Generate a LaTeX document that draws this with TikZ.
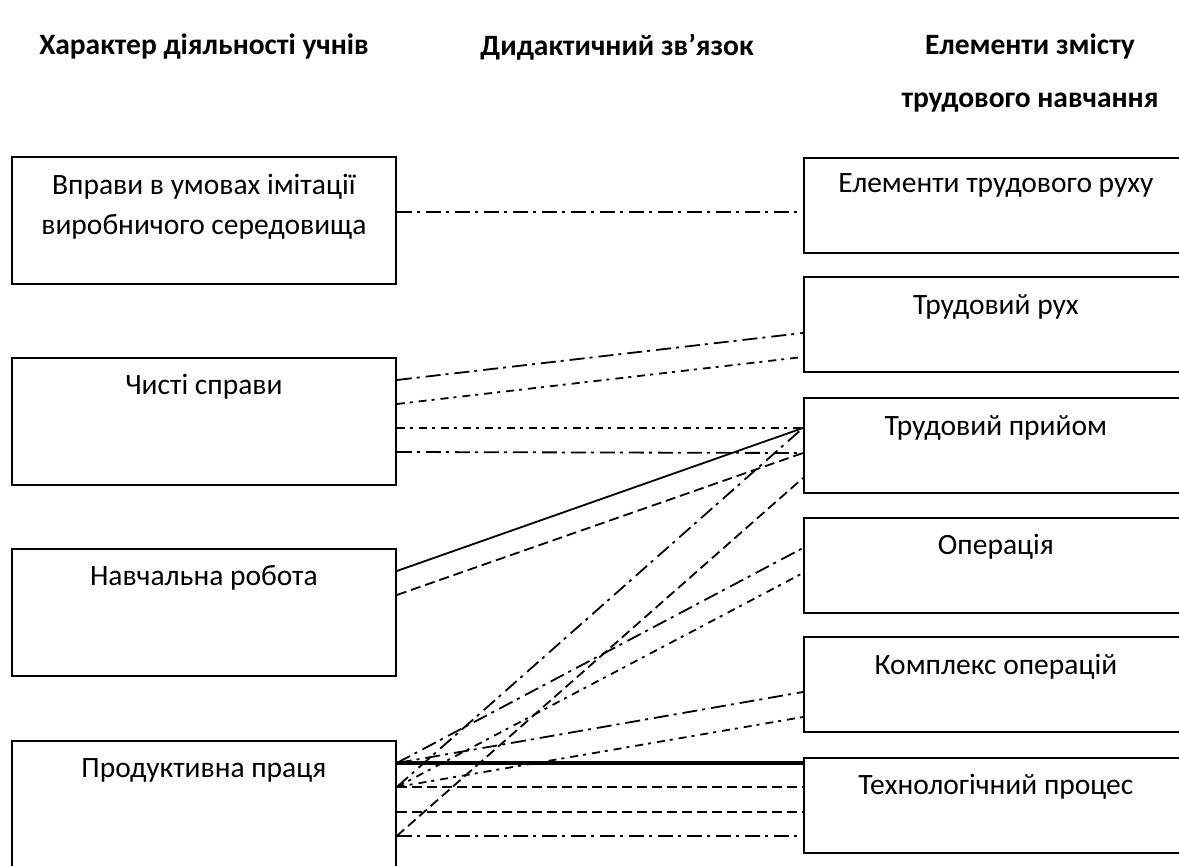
\documentclass[tikz,border=0pt]{standalone}
\usepackage{fontspec}
\setmainfont{Carlito}
\usetikzlibrary{calc}
\tikzset{
  box/.style = {rectangle, draw=black, line width=1.8pt, inner sep=0pt, anchor=north west},
  lbox/.style = {box, minimum width=384pt, minimum height=127pt},
  rbox/.style = {box, minimum width=384pt, minimum height=95pt},
  lbl/.style = {align=center, inner sep=0pt, font=\fontsize{29.5}{40}\selectfont},
  head/.style = {align=center, inner sep=0pt, font=\fontsize{29.5}{53}\selectfont\bfseries},
  link/.style = {line width=1.8pt},
  ldashdot/.style = {link, dash pattern=on 15pt off 5pt on 3pt off 6pt},
  sdashdot/.style = {link, dash pattern=on 8pt off 5pt on 3pt off 6pt},
  sdash/.style = {link, dash pattern=on 10pt off 5pt},
}

\begin{document}
\begin{tikzpicture}[x=1pt, y=-1pt]
  \useasboundingbox (0,0) rectangle (1179,866);

  % column headings
  \node [head] (h1) at (204,47) {Характер діяльності учнів};
  \node [head] (h2) at (617,47) {Дидактичний зв’язок};
  \node [head] (h3) at (1030,73) {Елементи змісту\\трудового навчання};

  % left column
  \node [lbox] (b1) at (11,156) {};
  \node [lbox] (b2) at (11,357) {};
  \node [lbox] (b3) at (11,548) {};
  \node [lbox, minimum height=140pt] (b4) at (11,740) {};
  \node [lbl] (t1) at ([yshift=-51pt]b1.north) {Вправи в умовах імітації\\виробничого середовища};
  \node [lbl] (t2) at ([yshift=-30pt]b2.north) {Чисті справи};
  \node [lbl] (t3) at ([yshift=-30pt]b3.north) {Навчальна робота};
  \node [lbl] (t4) at ([yshift=-30pt]b4.north) {Продуктивна праця};

  % right column
  \node [rbox] (r1) at (803,157) {};
  \node [rbox] (r2) at (803,276) {};
  \node [rbox] (r3) at (803,397) {};
  \node [rbox] (r4) at (803,517) {};
  \node [rbox] (r5) at (803,636) {};
  \node [rbox] (r6) at (803,757) {};
  \node [lbl] (s1) at ([yshift=-28pt]r1.north) {Елементи трудового руху};
  \node [lbl] (s2) at ([yshift=-31pt]r2.north) {Трудовий рух};
  \node [lbl] (s3) at ([yshift=-31pt]r3.north) {Трудовий прийом};
  \node [lbl] (s4) at ([yshift=-30pt]r4.north) {Операція};
  \node [lbl] (s5) at ([yshift=-31pt]r5.north) {Комплекс операцій};
  \node [lbl] (s6) at ([yshift=-30pt]r6.north) {Технологічний процес};

  % connection points on the box edges
  \foreach \b/\d/\k in {b1/56/1, b2/23/1, b2/47/2, b2/71/3, b2/95/4, b3/23/1, b3/47/2,
                        b4/23/1, b4/47/2, b4/72/3, b4/96/4}
    \coordinate (\b-\k) at ($(\b.north east)+(0,\d)$);
  \foreach \b/\d/\k in {r1/55/1, r2/57/1, r2/81/2, r3/31/1, r3/56/2, r3/81/3, r4/31/1,
                        r4/56/2, r5/56/1, r5/81/2, r6/6/1, r6/30/2, r6/55/3, r6/79/4}
    \coordinate (\b-\k) at ($(\b.north west)+(0,\d)$);

  % links
  \draw [ldashdot] (b1-1) -- (r1-1);
  \draw [ldashdot] (b2-1) -- (r2-1);
  \draw [sdashdot] (b2-2) -- (r2-2);
  \draw [sdashdot] (b2-3) -- (r3-1);
  \draw [ldashdot] (b2-4) -- (r3-2);
  \draw [link] (b3-1) -- (r3-1);
  \draw [sdash] (b3-2) -- (r3-2);
  \draw [link, line width=3.5pt] (b4-1) -- (r6-1);
  \draw [sdash] (b4-2) -- (r6-2);
  \draw [sdash] (b4-3) -- (r6-3);
  \draw [ldashdot] (b4-4) -- (r6-4);
  \draw [ldashdot] (b4-2) -- (r3-1);
  \draw [sdash] (b4-4) -- (r3-3);
  \draw [ldashdot] (b4-1) -- (r4-1);
  \draw [sdashdot] (b4-2) -- (r4-2);
  \draw [ldashdot] (b4-1) -- (r5-1);
  \draw [sdashdot] (b4-2) -- (r5-2);
\end{tikzpicture}
\end{document}
